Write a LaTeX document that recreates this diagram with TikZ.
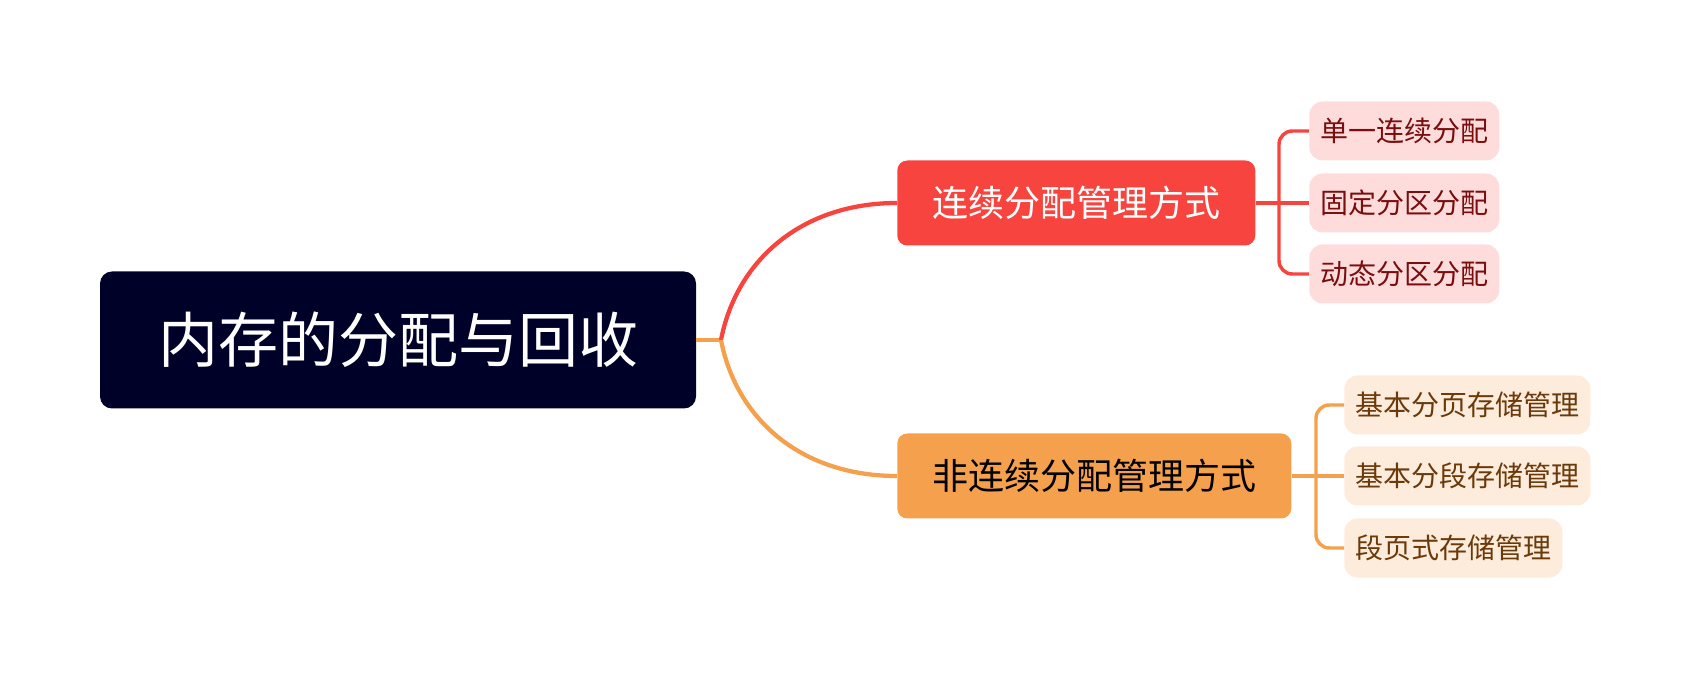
\documentclass[tikz,border=0pt]{standalone}
\usepackage{fontspec}
\setmainfont{Noto Sans CJK SC}
\definecolor{rootblue}{HTML}{000129}
\definecolor{redbr}{HTML}{F8443F}
\definecolor{orangebr}{HTML}{F5A04C}
\definecolor{pinkleaf}{HTML}{FFDCDC}
\definecolor{peachleaf}{HTML}{FDEBDB}
\definecolor{redtext}{HTML}{7A0E0E}
\definecolor{browntext}{HTML}{6B3A0A}
\begin{document}
\begin{tikzpicture}[x=0.75pt,y=-0.75pt,
	rootbox/.style={rectangle, rounded corners=9pt, fill=rootblue, text=white, inner sep=0pt, minimum width=447pt, minimum height=102.75pt, font=\fontsize{45}{50}\selectfont},
	mainbox/.style={rectangle, rounded corners=7.5pt, inner sep=0pt, minimum height=63.75pt, anchor=west, font=\fontsize{27}{30}\selectfont},
	leafbox/.style={rectangle, rounded corners=10pt, inner sep=0pt, minimum height=44.25pt, anchor=west, font=\fontsize{21}{24}\selectfont},
	redleaf/.style={leafbox, fill=pinkleaf, text=redtext, minimum width=142.5pt},
	orangeleaf/.style={leafbox, fill=peachleaf, text=browntext},
	redline/.style={redbr, line width=3.2pt},
	orangeline/.style={orangebr, line width=3.2pt}]
			\useasboundingbox (0,0) rectangle (1692,680);
			%Root
			\node[rootbox] (root) at (398,340) {内存的分配与回收};
			\coordinate (fork) at (721,340);
			%Branches
			\node[mainbox, fill=redbr, text=white, minimum width=268.5pt] (cont) at (897,203) {连续分配管理方式};
			\node[mainbox, fill=orangebr, text=black, minimum width=295.5pt] (noncont) at (897,476) {非连续分配管理方式};
			%Leaves
			\node[redleaf] (single) at (1309,131) {单一连续分配};
			\node[redleaf] (fixed) at (1309,203) {固定分区分配};
			\node[redleaf] (dynamic) at (1309,274) {动态分区分配};
			\node[orangeleaf, minimum width=184.5pt] (paging) at (1344,405) {基本分页存储管理};
			\node[orangeleaf, minimum width=184.5pt] (segment) at (1344,476) {基本分段存储管理};
			\node[orangeleaf, minimum width=163.5pt] (segpage) at (1344,548) {段页式存储管理};
			%Connectors
			\draw[orangeline] (root.east) -- (fork);
			\draw[redline] (fork) .. controls (736,262) and (800,203) .. (cont.west);
			\draw[orangeline] (fork) .. controls (736,418) and (800,476) .. (noncont.west);
			\coordinate (redbus) at (1279,203);
			\coordinate (orangebus) at (1316,476);
			\draw[redline, line width=2.6pt] (cont.east) -- (fixed.west);
			\draw[redline, line width=2.6pt, rounded corners=10pt] (single.west) -| (redbus) |- (dynamic.west);
			\draw[orangeline, line width=2.6pt] (noncont.east) -- (segment.west);
			\draw[orangeline, line width=2.6pt, rounded corners=10pt] (paging.west) -| (orangebus) |- (segpage.west);
\end{tikzpicture}
\end{document}
